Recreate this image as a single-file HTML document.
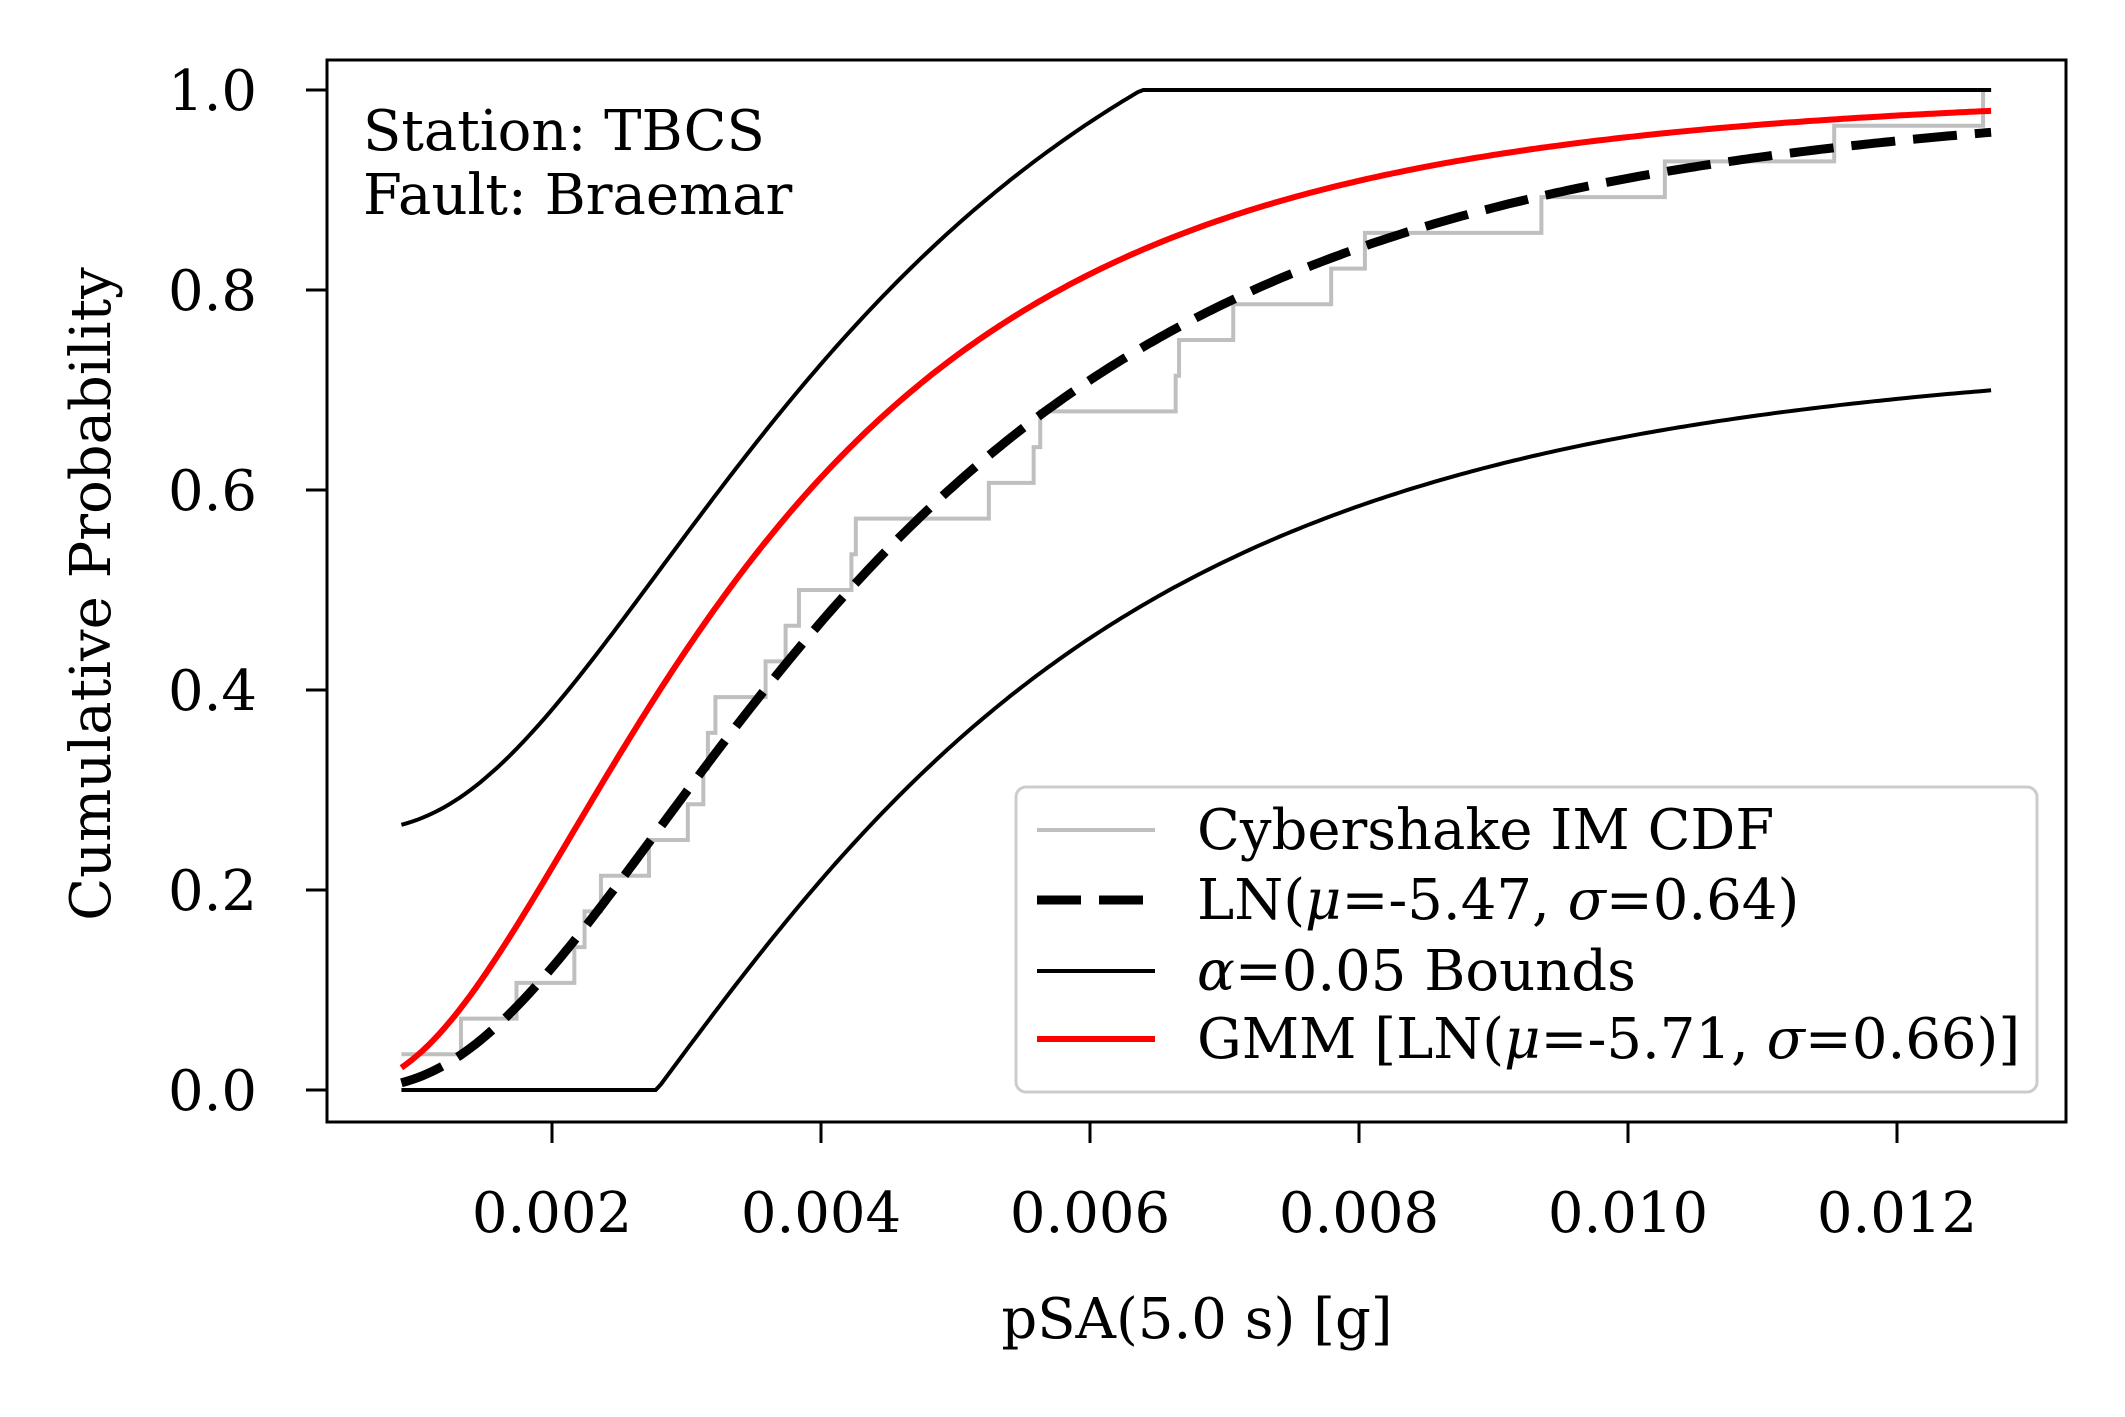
<!DOCTYPE html>
<html><head><meta charset="utf-8"><style>
html,body{margin:0;padding:0;background:#fff;}
svg{display:block;font-family:"DejaVu Serif","Liberation Serif",serif;}
</style></head><body>
<svg id="chart" width="2125" height="1417" viewBox="0 0 2125 1417" xmlns="http://www.w3.org/2000/svg">
<rect width="2125" height="1417" fill="#fff"/>
<g id="plot"></g>
<rect x="327" y="60" width="1739" height="1062" fill="none" stroke="#000" stroke-width="3"/>
<g id="xt"></g>
<g id="yt"></g>
<text x="1197" y="1338" font-size="56" text-anchor="middle">pSA(5.0 s) [g]</text>
<text transform="translate(110,594) rotate(-90)" font-size="56" text-anchor="middle">Cumulative Probability</text>
<text x="363" y="150" font-size="56">Station: TBCS</text>
<text x="363" y="214" font-size="56">Fault: Braemar</text>
<g>
<rect x="1016" y="787" width="1021" height="305" rx="10" fill="#fff" fill-opacity="0.8" stroke="#ccc" stroke-width="3"/>
<line x1="1037" y1="830" x2="1155" y2="830" stroke="#bfbfbf" stroke-width="4"/>
<text x="1197" y="849" font-size="56">Cybershake IM CDF</text>
<line x1="1037" y1="900" x2="1155" y2="900" stroke="#000" stroke-width="9" stroke-dasharray="44 18"/>
<text x="1197" y="919" font-size="56">LN(<tspan font-style="italic">μ</tspan>=-5.47, <tspan font-style="italic">σ</tspan>=0.64)</text>
<line x1="1037" y1="971" x2="1155" y2="971" stroke="#000" stroke-width="4"/>
<text x="1197" y="990" font-size="56"><tspan font-style="italic">α</tspan>=0.05 Bounds</text>
<line x1="1037" y1="1039" x2="1155" y2="1039" stroke="#f00" stroke-width="6"/>
<text x="1197" y="1058" font-size="56">GMM [LN(<tspan font-style="italic">μ</tspan>=-5.71, <tspan font-style="italic">σ</tspan>=0.66)]</text>
</g>
</svg>
<script>
const samples = [0.00088,0.001323,0.001736,0.002166,0.002242,0.002364,0.002721,0.00301,0.003125,0.003159,0.003215,0.003588,0.003737,0.003836,0.004226,0.004259,0.005248,0.005581,0.00563,0.006637,0.006662,0.007065,0.007793,0.008044,0.009356,0.010274,0.011533,0.01264];
const lnParams = [-5.47, 0.64];
const gmmParams = [-5.71, 0.66];
const ksD = [0.258];
const xRange = [0.00088, 0.0127];
const xTicks = [0.002,0.004,0.006,0.008,0.010,0.012];
const xTickLabels = ["0.002","0.004","0.006","0.008","0.010","0.012"];
const yTicks = [0,0.2,0.4,0.6,0.8,1.0];
const yTickLabels = ["0.0","0.2","0.4","0.6","0.8","1.0"];

const NS="http://www.w3.org/2000/svg";
const X=v=>552+(v-0.002)*134500;
const Y=v=>1090-v*1000;
function erf(x){const s=x<0?-1:1;x=Math.abs(x);const t=1/(1+0.3275911*x);
const y=1-(((((1.061405429*t-1.453152027)*t)+1.421413741)*t-0.284496736)*t+0.254829592)*t*Math.exp(-x*x);return s*y;}
const cdf=(x,p)=>0.5*(1+erf((Math.log(x)-p[0])/(p[1]*Math.SQRT2)));
function mk(tag,attrs,parent){const e=document.createElementNS(NS,tag);for(const k in attrs)e.setAttribute(k,attrs[k]);parent.appendChild(e);return e;}
const plot=document.getElementById('plot');

const n=samples.length;let d=`M${X(samples[0])},${Y(1/n)}`;
for(let i=1;i<n;i++){d+=` H${X(samples[i])} V${Y((i+1)/n)}`;}
d+=` H${X(xRange[1])}`;
let e=mk('path',{d:d,fill:'none',stroke:'#bfbfbf','stroke-width':4},plot);



function curve(f){let pts=[];const N=300;for(let i=0;i<=N;i++){const x=xRange[0]+(xRange[1]-xRange[0])*i/N;pts.push(X(x).toFixed(1)+','+Y(f(x)).toFixed(1));}return 'M'+pts.join(' L');}
e=mk('path',{d:curve(x=>Math.min(1,cdf(x,lnParams)+ksD[0])),fill:'none',stroke:'#000','stroke-width':4},plot);


e=mk('path',{d:curve(x=>Math.max(0,cdf(x,lnParams)-ksD[0])),fill:'none',stroke:'#000','stroke-width':4},plot);


e=mk('path',{d:curve(x=>cdf(x,gmmParams)),fill:'none',stroke:'#f00','stroke-width':6},plot);


e=mk('path',{d:curve(x=>cdf(x,lnParams)),fill:'none',stroke:'#000','stroke-width':9,'stroke-dasharray':'44 18'},plot);



const xt=document.getElementById('xt');
xTicks.forEach((v,i)=>{
 let t=mk('line',{x1:X(v),x2:X(v),y1:1122,y2:1143,stroke:'#000','stroke-width':3},xt);
 
 
 let l=mk('text',{x:X(v),y:1232,'font-size':56,'text-anchor':'middle'},xt);l.textContent=xTickLabels[i];
 
 
});
const yt=document.getElementById('yt');
yTicks.forEach((v,i)=>{
 let t=mk('line',{x1:306,x2:327,y1:Y(v),y2:Y(v),stroke:'#000','stroke-width':3},yt);
 
 
 let l=mk('text',{x:257,y:Y(v)+20,'font-size':56,'text-anchor':'end'},yt);l.textContent=yTickLabels[i];
 
 
});
</script>
</body></html>
